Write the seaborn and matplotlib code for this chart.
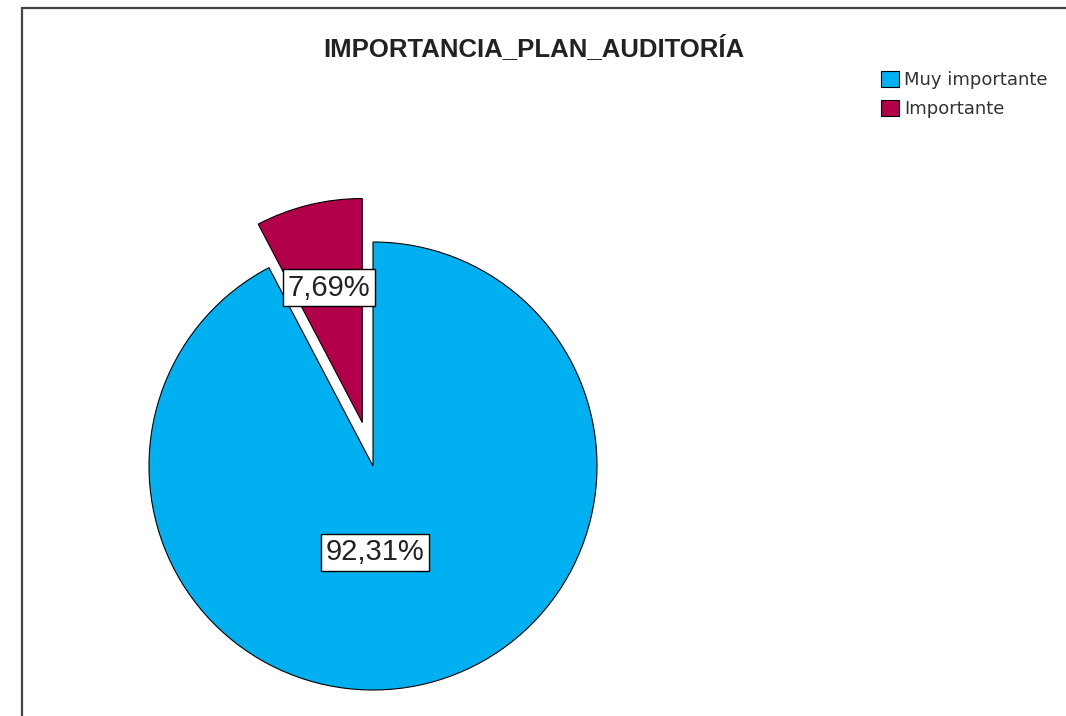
import matplotlib
matplotlib.use("Agg")
import numpy as np
import seaborn as sns
from matplotlib import pyplot as plt
from matplotlib.lines import Line2D

# datos del grafico
categorias = ["Muy importante", "Importante"]
porcentajes = [92.31, 7.69]
etiquetas = ["92,31%", "7,69%"]
colores = ["#00B0F0", "#B3004B"]
titulo = "IMPORTANCIA_PLAN_AUDITORÍA"

sns.set_theme(style="white")
plt.rcParams['font.family'] = ['Liberation Sans', 'DejaVu Sans']

fig = plt.figure(figsize=(10.66, 7.16), dpi=100)
fig.patch.set_facecolor("white")
ax = fig.add_axes([0, 0, 1, 1])

wedges, texts, autotexts = ax.pie(
    porcentajes,
    colors=sns.color_palette(colores),
    explode=[0, 0.2],
    startangle=90,
    counterclock=False,
    autopct="%1.2f%%",
    pctdistance=0.62,
    wedgeprops=dict(edgecolor="black", linewidth=0.8),
)

for t, lab in zip(autotexts, etiquetas):
    t.set_text(lab)
    t.set_fontsize(21)
    t.set_color("#222222")
    t.set_bbox(dict(boxstyle="square,pad=0.15", fc="white", ec="black", lw=1))
autotexts[0].set_position((0.01, -0.385))

# escala: centro en (373, 466) px, radio 224 px
ax.set_aspect("auto")
ax.set_xlim(-373 / 224, (1066 - 373) / 224)
ax.set_ylim(-(716 - 466) / 224, 466 / 224)
ax.axis("off")

fig.text(534 / 1066, 1 - 48 / 716, titulo, ha="center", va="center",
         fontsize=18.5, fontweight="bold", color="#222222")

leg = fig.legend(wedges, categorias, loc="upper left",
                 bbox_to_anchor=(881 / 1066, 1 - 71 / 716),
                 frameon=False, handlelength=1.0,
                 handleheight=1.0, handletextpad=0.3, labelspacing=0.6,
                 borderpad=0, borderaxespad=0, prop={'family': 'DejaVu Sans', 'size': 13})
for txt in leg.get_texts():
    txt.set_color("#333333")

# marco (recortado)
fig.add_artist(Line2D([22 / 1066, 22 / 1066], [0, 1 - 8 / 716],
                      transform=fig.transFigure, color="#444444", lw=1.6))
fig.add_artist(Line2D([22 / 1066, 1], [1 - 8 / 716, 1 - 8 / 716],
                      transform=fig.transFigure, color="#444444", lw=1.6))

plt.savefig("out.png", dpi=100)
